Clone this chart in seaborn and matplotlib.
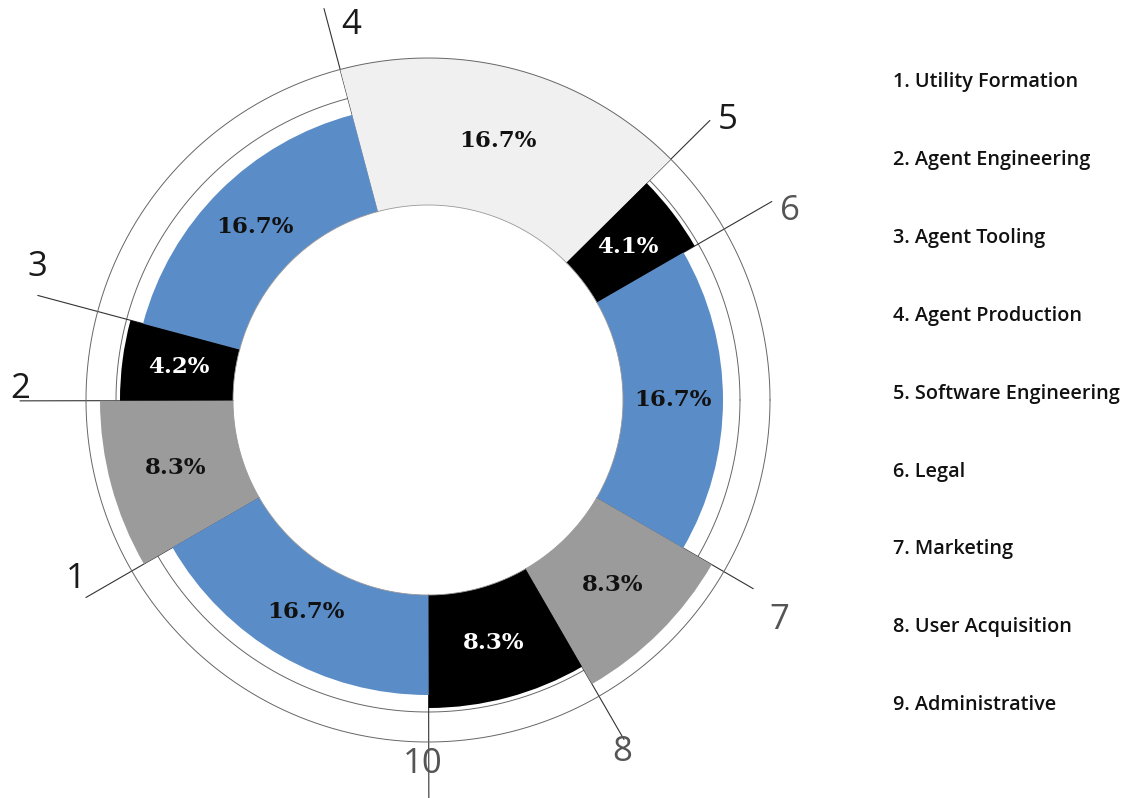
import numpy as np
import matplotlib.pyplot as plt
import seaborn as sns

categories = [
    "Utility Formation",
    "Agent Engineering",
    "Agent Tooling",
    "Agent Production",
    "Software Engineering",
    "Legal",
    "Marketing",
    "User Acquisition",
    "Administrative",
]
shares = [8.3, 4.2, 16.7, 16.7, 4.1, 16.7, 8.3, 8.3, 16.7]
tones = ["gray", "black", "blue", "light", "black", "blue", "gray", "black", "blue"]
boundary_labels = ["1", "2", "3", "4", "5", "6", "7", "8", "10"]

sns.set_theme(style="white")
plt.rcParams["font.family"] = ["Open Sans", "DejaVu Sans"]

COLORS = {"blue": "#5a8cc8", "gray": "#9b9b9b", "black": "#000000", "light": "#f0f0f0"}
OUTER = {"blue": 295, "gray": 328, "black": 308, "light": 342}
INNER = 195
START_DEG = 210

# leader line end radius and label offset (pixels) for each boundary
LINE_END = [395, 408, 404, 405, 397, 397, 376, 392, 410]
LABEL_OFF = [(-10, 19), (0, 12), (0, 28), (27, -16), (18, 0), (18, -10), (26, -31), (-2, -13), (-6, 46)]
LABEL_COL = ["#1a1a1a"] * 5 + ["#555555"] * 4

W, H = 1128, 798
fig = plt.figure(figsize=(W / 100, H / 100), dpi=100)
R = 420
cx, cy = 428, 400
ax = fig.add_axes([(cx - R) / W, (H - cy - R) / H, 2 * R / W, 2 * R / H], projection="polar")
ax.set_rlim(0, R)
ax.set_axis_off()

share_arr = np.array(shares)
widths = np.deg2rad(share_arr * 3.6)
starts = np.deg2rad(START_DEG) - np.concatenate([[0], np.cumsum(widths)[:-1]])
mids = starts - widths / 2
outer = np.array([OUTER[t] for t in tones])

ax.bar(mids, outer - INNER, width=widths, bottom=INNER,
       color=[COLORS[t] for t in tones], linewidth=0, zorder=3)

# thin rings
theta = np.linspace(0, 2 * np.pi, 720)
ax.plot(theta, np.full_like(theta, 312), color="#666666", lw=0.7, zorder=1)
ax.plot(theta, np.full_like(theta, 342), color="#666666", lw=0.7, zorder=4)
ax.plot(theta, np.full_like(theta, INNER), color="#999999", lw=0.6, zorder=4)

# percentage labels
for m, v, t, r in zip(mids, shares, tones, outer):
    ax.text(m, (INNER + r) / 2, f"{v:.1f}%", ha="center", va="center",
            fontsize=16.5, fontweight="bold", family="DejaVu Serif",
            color="white" if t == "black" else "#111111", zorder=5)

# leader lines with boundary numbers
for s, lab, r_end, off, col in zip(starts, boundary_labels, LINE_END, LABEL_OFF, LABEL_COL):
    ax.plot([s, s], [INNER, r_end], color="#333333", lw=0.8, zorder=2, clip_on=False)
    ax.annotate(lab, xy=(s, r_end), xytext=off, textcoords="offset pixels",
                ha="center", va="center", fontsize=25, color=col,
                annotation_clip=False)

# legend list on the right
for i, cat in enumerate(categories):
    fig.text(893 / W, 1 - (82 + i * 77.9) / H, f"{i + 1}. {cat}",
             ha="left", va="center", fontsize=14.3, fontweight="semibold", color="#111111")

fig.savefig("out.png", dpi=100)
